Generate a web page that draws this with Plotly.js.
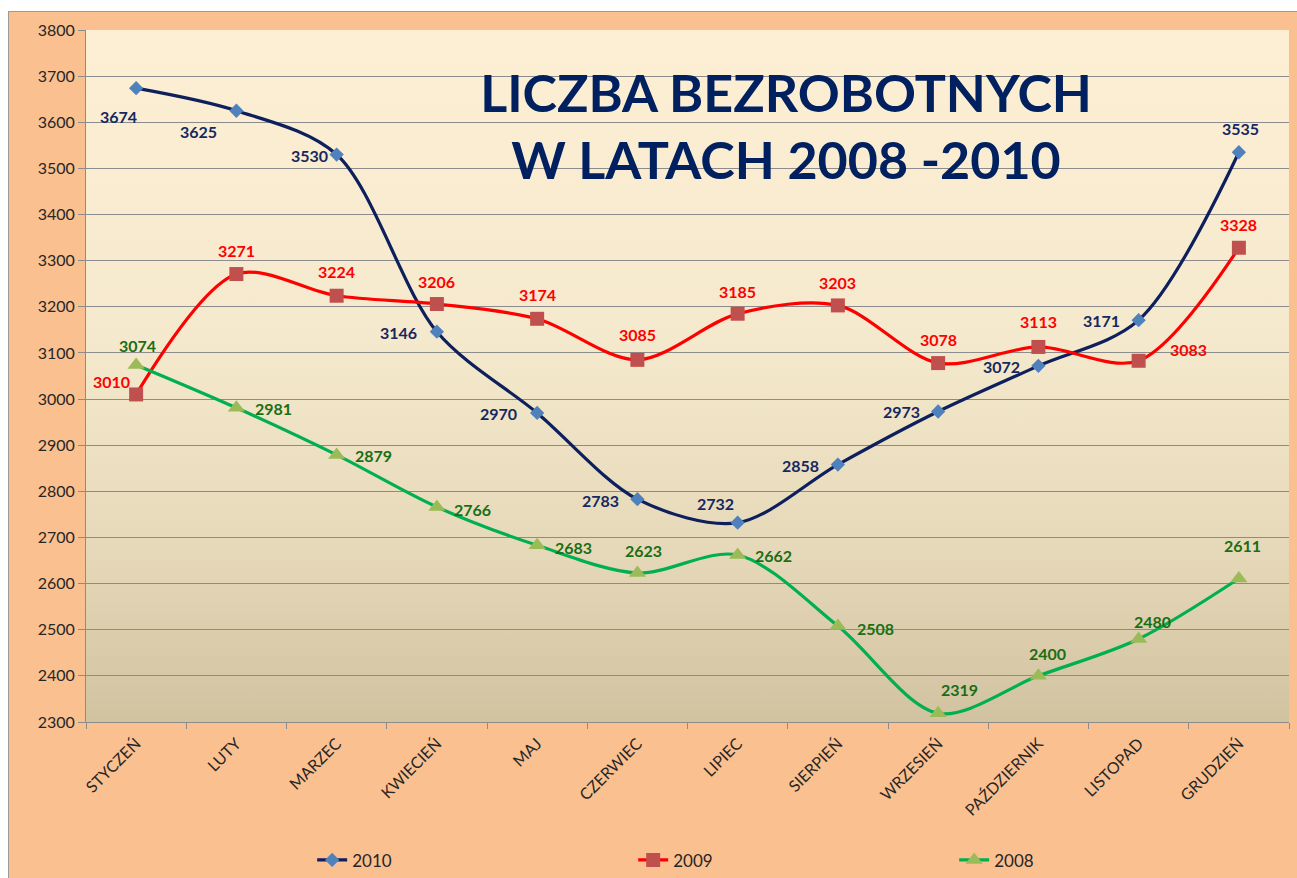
<!DOCTYPE html>
<html>
<head>
<meta charset="utf-8">
<script src="https://cdn.plot.ly/plotly-3.0.1.min.js"></script>
<style>
  html, body { margin: 0; padding: 0; background: #ffffff; width: 1297px; height: 878px; overflow: hidden; }
  #wrap { position: absolute; left: 8px; top: 11px; width: 1289px; height: 867px; border-left: 1px solid #9a9a9a; border-top: 1px solid #9a9a9a; box-sizing: border-box; background: #FAC090; }
  #chart { position: absolute; left: 0; top: 0; width: 1288px; height: 866px; }
</style>
</head>
<body>
<div id="wrap"><div id="chart"></div></div>
<script>
const months = ['STYCZEŃ','LUTY','MARZEC','KWIECIEŃ','MAJ','CZERWIEC','LIPIEC','SIERPIEŃ','WRZESIEŃ','PAŹDZIERNIK','LISTOPAD','GRUDZIEŃ'];
const seriesNames = ['2010','2009','2008'];
const v2010 = [3674, 3625, 3530, 3146, 2970, 2783, 2732, 2858, 2973, 3072, 3171, 3535];
const v2009 = [3010, 3271, 3224, 3206, 3174, 3085, 3185, 3203, 3078, 3113, 3083, 3328];
const v2008 = [3074, 2981, 2879, 2766, 2683, 2623, 2662, 2508, 2319, 2400, 2480, 2611];
const yTicks = [2300, 2400, 2500, 2600, 2700, 2800, 2900, 3000, 3100, 3200, 3300, 3400, 3500, 3600, 3700, 3800];
const titleText = 'LICZBA BEZROBOTNYCH<br>W LATACH 2008 -2010';

// styling: label offsets in px (dx right, dy down)
const off2010 = [[-18,28],[-38,21],[-27,1],[-38,1],[-39,1],[-37,1],[-22,-19],[-37,1],[-37,0],[-37,1],[-37,0],[2,-24]];
const off2009 = [[-25,-13],[0,-24],[0,-24],[0,-23],[0,-24],[0,-25],[0,-22],[0,-23],[0,-24],[0,-25],[50,-11],[0,-23]];
const off2008 = [[1,-19],[37,1],[37,1],[36,2],[36,2],[6,-22],[36,0],[38,2],[21,-24],[9,-22],[14,-17],[4,-33]];

const styles = [
  {vals: v2010, line: '#0D1F5C', marker: '#4F81BD', symbol: 'diamond', size: 11, label: '#15285F', off: off2010},
  {vals: v2009, line: '#FF0000', marker: '#C0504D', symbol: 'square', size: 14, label: '#FF0000', off: off2009},
  {vals: v2008, line: '#00B050', marker: '#9BBB59', symbol: 'triangle-up', size: 15, label: '#1B6E14', off: off2008}
];

const traces = styles.map((s, i) => ({
  type: 'scatter', mode: 'lines+markers', name: seriesNames[i],
  x: months, y: s.vals,
  line: {color: s.line, width: 3.2, shape: 'spline', smoothing: 0.9},
  marker: {symbol: s.symbol, size: s.size, color: s.marker, line: {width: 0}},
  cliponaxis: false,
  hoverinfo: 'x+y'
}));

const annotations = [];
styles.forEach(s => {
  s.vals.forEach((v, j) => {
    annotations.push({
      x: months[j], y: v, xref: 'x', yref: 'y', text: String(v), showarrow: false,
      xshift: s.off[j][0], yshift: -s.off[j][1],
      font: {family: 'Lato, "Open Sans", sans-serif', size: 16, color: s.label, weight: 'bold'}
    });
  });
});

const grad = "<svg xmlns='http://www.w3.org/2000/svg' width='100' height='100' preserveAspectRatio='none'>" +
  "<defs><linearGradient id='g' x1='0' y1='0' x2='0' y2='1'>" +
  "<stop offset='0' stop-color='#FDEFD4'/><stop offset='0.45' stop-color='#F5E9CD'/>" +
  "<stop offset='0.75' stop-color='#E6D9B9'/><stop offset='1' stop-color='#D1C2A0'/>" +
  "</linearGradient></defs><rect width='100' height='100' fill='url(#g)'/></svg>";

const layout = {
  width: 1288, height: 866,
  paper_bgcolor: '#FAC090',
  plot_bgcolor: 'rgba(0,0,0,0)',
  margin: {l: 77, r: 8, t: 18, b: 156, autoexpand: false},
  font: {family: 'Lato, "Open Sans", sans-serif', color: '#262626'},
  title: {
    text: titleText,
    font: {family: 'Lato, "Open Sans", sans-serif', size: 52, color: '#002060', weight: 'bold'},
    xref: 'container', x: 0.6033, xanchor: 'center',
    yref: 'container', y: 0.885, yanchor: 'middle', automargin: false
  },
  images: [{
    source: 'data:image/svg+xml;charset=utf-8,' + encodeURIComponent(grad),
    xref: 'paper', yref: 'paper', x: 0, y: 1, sizex: 1, sizey: 1,
    xanchor: 'left', yanchor: 'top', sizing: 'stretch', layer: 'below'
  }],
  xaxis: {
    type: 'category', range: [-0.5, 11.5], automargin: false,
    tickangle: -45, tickson: 'boundaries', ticklabelstandoff: 5,
    ticks: 'outside', ticklen: 6, tickcolor: '#8c8c8c',
    showline: true, linecolor: '#8c8c8c', linewidth: 1,
    showgrid: false, zeroline: false,
    tickfont: {size: 16, color: '#262626'}
  },
  yaxis: {
    range: [2300, 3800], tickvals: yTicks, automargin: false,
    ticks: 'outside', ticklen: 7, tickcolor: '#8c8c8c',
    showline: true, linecolor: '#8c8c8c', linewidth: 1,
    showgrid: true, gridcolor: '#8c8c8c', gridwidth: 1,
    zeroline: false,
    tickfont: {size: 16, color: '#262626'}
  },
  legend: {
    orientation: 'h', x: 0.188, xanchor: 'left', y: -0.2, yanchor: 'middle',
    bgcolor: 'rgba(0,0,0,0)', font: {size: 17, color: '#262626'},
    entrywidth: 276, entrywidthmode: 'pixels', traceorder: 'normal'
  },
  annotations: annotations,
  showlegend: true
};

Plotly.newPlot('chart', traces, layout, {displayModeBar: false, staticPlot: true});
</script>
</body>
</html>
